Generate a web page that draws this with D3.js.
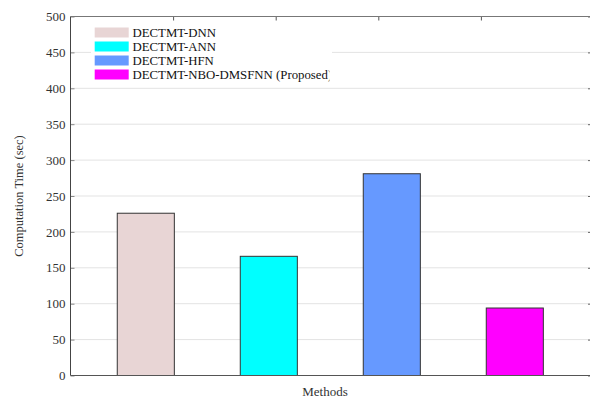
<!DOCTYPE html>
<html><head><meta charset="utf-8">
<script src="https://cdn.jsdelivr.net/npm/d3@7"></script>
<style>
html,body{margin:0;padding:0;background:#fff;}
svg{display:block;}
text{font-family:"Liberation Serif","Times New Roman",serif;}
</style></head>
<body>
<svg id="chart" width="590" height="398"></svg>
<script>
const methods = ["DECTMT-DNN", "DECTMT-ANN", "DECTMT-HFN", "DECTMT-NBO-DMSFNN (Proposed)"];
const times = [226, 166, 281, 94];
const colors = ["#e8d5d5", "#00ffff", "#6699ff", "#ff00ff"];
const yTicks = [0, 50, 100, 150, 200, 250, 300, 350, 400, 450, 500];
const topTicks = [1, 2, 3, 4];
const yLabel = "Computation Time (sec)";
const xLabel = "Methods";

const svg = d3.select("#chart");
const L = 70.5, R = 593, T = 16.5, B = 375.5;

const y = d3.scaleLinear().domain([0, 500]).range([B, T]);
const x = d3.scaleBand().domain(methods).range([84.3, 576.3]).paddingInner(0.536).paddingOuter(0.268);
const xTop = d3.scaleLinear().domain([0, 5]).range([L, 583.5]);

// grid
svg.append("g").selectAll("line").data(yTicks.filter(d => d > 0 && d < 500)).join("line")
  .attr("x1", L).attr("x2", R).attr("y1", d => y(d)).attr("y2", d => y(d))
  .attr("stroke", "#e3e3e3").attr("stroke-width", 1);

// bars
svg.append("g").selectAll("rect").data(methods).join("rect")
  .attr("x", d => x(d)).attr("width", x.bandwidth())
  .attr("y", (d, i) => y(times[i])).attr("height", (d, i) => B - y(times[i]))
  .attr("fill", (d, i) => colors[i]).attr("stroke", "#333").attr("stroke-width", 1);

// axes
const yAxis = svg.append("g").attr("transform", `translate(${L},0)`)
  .call(d3.axisLeft(y).tickValues(yTicks).tickSize(-4).tickPadding(5));
yAxis.select(".domain").remove();
yAxis.selectAll(".tick line").attr("stroke", "#888");
yAxis.selectAll("text").attr("font-size", 13).attr("fill", "#333");

const yAxisR = svg.append("g").attr("transform", `translate(${R},0)`)
  .call(d3.axisRight(y).tickValues(yTicks).tickSize(-5).tickFormat(""));
yAxisR.select(".domain").remove();
yAxisR.selectAll(".tick line").attr("stroke", "#666");

const topAxis = svg.append("g").attr("transform", `translate(0,${T})`)
  .call(d3.axisTop(xTop).tickValues(topTicks).tickSize(-4).tickFormat(""));
topAxis.select(".domain").remove();
topAxis.selectAll(".tick line").attr("stroke", "#555");

// frame lines
svg.append("line").attr("x1", L).attr("x2", L).attr("y1", T).attr("y2", B).attr("stroke", "#444");
svg.append("line").attr("x1", L).attr("x2", R).attr("y1", B).attr("y2", B).attr("stroke", "#555");
svg.append("line").attr("x1", L).attr("x2", R).attr("y1", T).attr("y2", T).attr("stroke", "#777");

// legend
const lg = svg.append("g");
lg.append("rect").attr("x", 91).attr("y", 21).attr("width", 241).attr("height", 62).attr("fill", "#fff");
const clip = svg.append("clipPath").attr("id", "lgclip");
clip.append("rect").attr("x", 91).attr("y", 21).attr("width", 238.5).attr("height", 62);
const items = lg.append("g").attr("clip-path", "url(#lgclip)").selectAll("g").data(methods).join("g")
  .attr("transform", (d, i) => `translate(0,${32.5 + i * 14})`);
items.append("rect").attr("x", 94.7).attr("y", -5).attr("width", 34).attr("height", 10)
  .attr("fill", (d, i) => colors[i]);
items.append("text").attr("x", 132.5).attr("y", 4.3).attr("font-size", 12.8).attr("fill", "#111").text(d => d);

// labels
svg.append("text").attr("transform", `translate(23,196) rotate(-90)`)
  .attr("text-anchor", "middle").attr("font-size", 12.5).attr("fill", "#333").text(yLabel);
svg.append("text").attr("x", 325).attr("y", 396).attr("text-anchor", "middle")
  .attr("font-size", 13).attr("fill", "#333").text(xLabel);
</script>
</body></html>
